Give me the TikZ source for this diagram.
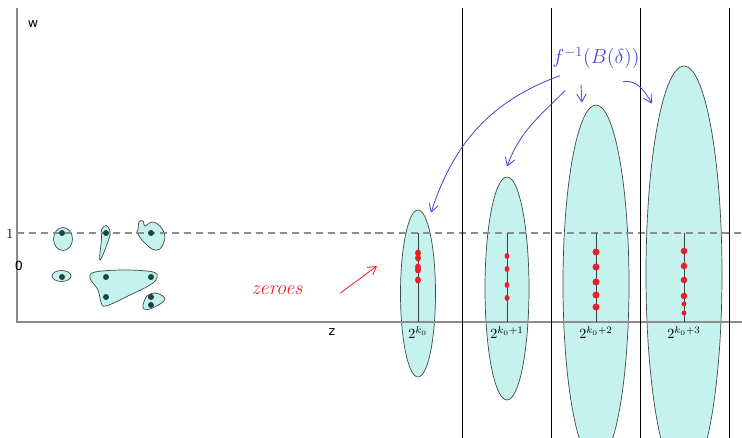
\documentclass[tikz,border=0pt]{standalone}
\usepackage{amsmath}
\usepackage{fontspec}
\newfontfamily\axisfont{DejaVu Sans}
\usetikzlibrary{arrows.meta, positioning, calc, shapes.geometric}
\definecolor{blobfill}{RGB}{198,242,237}
\definecolor{blobline}{RGB}{60,75,75}
\definecolor{dotteal}{RGB}{25,70,65}
\definecolor{axisgray}{RGB}{140,140,140}
\definecolor{inkred}{RGB}{236,32,42}
\definecolor{inkblue}{RGB}{72,72,214}
\tikzset{
  blob/.style={draw=blobline, fill=blobfill, line width=0.5pt},
  fibre/.style={blob, ellipse, inner sep=0pt},
  seed/.style={fill=dotteal},
  zero/.style={fill=inkred},
  stem/.style={draw=blobline!90!black, line width=0.7pt},
  inkarrow/.style={inkblue, line width=0.6pt, -{Straight Barb[length=2mm,width=2.4mm]}},
  redarrow/.style={inkred, line width=0.6pt, -{Straight Barb[length=2mm,width=2.4mm]}},
}

\begin{document}
\begin{tikzpicture}[x=2.5mm, y=2.5mm]
  \useasboundingbox (-1.7,-11.6) rectangle (72.5,32.2);

  % fibres over the dyadic blocks
  \foreach \name/\cx/\cy/\w/\h in {e1/40.1/2.85/8.75/41.75, e2/49.0/3.35/11/55.75,
      e3/57.9/3.8/16.5/89.5, e4/66.7/4.8/19/104}
    \node[fibre, minimum width=\w mm, minimum height=\h mm] (\name) at (\cx,\cy) {};

  % blobs near the origin
  \draw[blob] (4.6,8.3) ellipse (0.95 and 1.15);
  \draw[blob] plot[smooth cycle, tension=0.7] coordinates {(8.9,9.65) (9.3,9.1) (9.15,8.2) (8.3,6.2) (8.45,8.3) (8.45,9.2)};
  \draw[blob] plot[smooth cycle, tension=0.6] coordinates {(12.1,9.2) (12.2,10.0) (12.6,10.1) (12.8,9.6) (13.5,10.0) (14.3,9.6)
      (14.8,8.5) (14.3,7.3) (13.5,7.3) (12.5,8.2) (12.0,9.0)};
  \draw[blob] (4.45,4.6) ellipse (0.95 and 0.55);
  \draw[blob] plot[smooth cycle, tension=0.6] coordinates {(7.3,4.4) (7.8,5.0) (10.8,5.2) (13.6,5.0) (14.0,4.4) (13.3,3.7)
      (11.3,2.7) (8.9,1.6) (8.4,2.0) (8.1,3.2)};
  \draw[blob] plot[smooth cycle, tension=0.6] coordinates {(12.6,1.7) (13.0,2.6) (13.8,2.9) (14.7,2.5) (14.6,2.0) (13.3,1.3) (12.7,1.3)};

  % axes
  \draw[axisgray, line width=0.8pt] (0,31.4) -- (0,0) -- (72.5,0);
  \draw[axisgray, line width=0.8pt, dash pattern=on 5pt off 3.5pt] (0,8.9) -- (72.5,8.9);
  \node[font=\axisfont\small] (w) at (1.6,29.8) {w};
  \node[font=\axisfont\small] (z) at (31.5,-1.0) {z};
  \node (one) at (-0.7,8.8) {1};
  \node[font=\axisfont\small] (zero) at (0.2,5.6) {0};

  % stems and zeroes
  \foreach \cx/\k in {40.1/{}, 49.0/{+1}, 57.9/{+2}, 66.7/{+3}} {
    \draw[stem] (\cx,8.9) -- (\cx,0);
    \node at (\cx,-1.1) {$2^{k_0\k}$};
  }
  \foreach \y in {6.9,6.4,5.5,5.2,4.2} \fill[zero] (40.1,\y) ellipse (0.3 and 0.35);
  \foreach \y in {6.6,5.3,3.7,2.4} \fill[zero] (49.0,\y) ellipse (0.25 and 0.3);
  \foreach \y in {7.0,5.5,4.0,2.7,1.5} \fill[zero] (57.9,\y) ellipse (0.35 and 0.35);
  \foreach \y in {7.1,5.6,4.2,2.6} \fill[zero] (66.7,\y) ellipse (0.33 and 0.33);
  \foreach \y in {1.8,0.9} \fill[zero] (66.7,\y) ellipse (0.25 and 0.25);
  \foreach \p in {(4.5,8.9), (8.9,8.9), (13.4,8.9), (4.5,4.5), (8.9,4.5), (13.4,4.5), (8.9,2.5), (13.4,2.5), (13.4,1.7)}
    \fill[seed] \p circle (0.3);

  % block boundaries
  \foreach \x in {44.5,53.4,62.3,71.2}
    \draw[black, line width=0.6pt] (\x,31.4) -- (\x,-11.6);

  % annotations
  \node[inkred, font=\Large\itshape] (zeroes) at (26.0,3.2) {zeroes};
  \coordinate (ztip) at (36.0,5.6);
  \draw[redarrow] ($(zeroes.east)+(3.3,-0.3)$) -- (ztip);

  \node[inkblue, font=\Large] (finv) at (57.9,26.4) {$f^{-1}(B(\delta))$};
  \draw[inkarrow] ($(finv.south)+(-3.6,-0.2)$) to[out=200, in=72] ($(e1.north)+(1.3,-0.3)$);
  \draw[inkarrow] ($(finv.south)+(-3.1,-1.7)$) to[out=225, in=70] ($(e2.north)+(0,1.0)$);
  \draw[inkarrow] ($(finv.south)+(-1.5,-1.1)$) -- ($(e3.north)+(-1.4,0.2)$);
  \draw[inkarrow] ($(finv.south)+(2.7,-0.8)$) to[out=10, in=120] ($(e4.north)+(-3.2,-3.8)$);
\end{tikzpicture}
\end{document}
